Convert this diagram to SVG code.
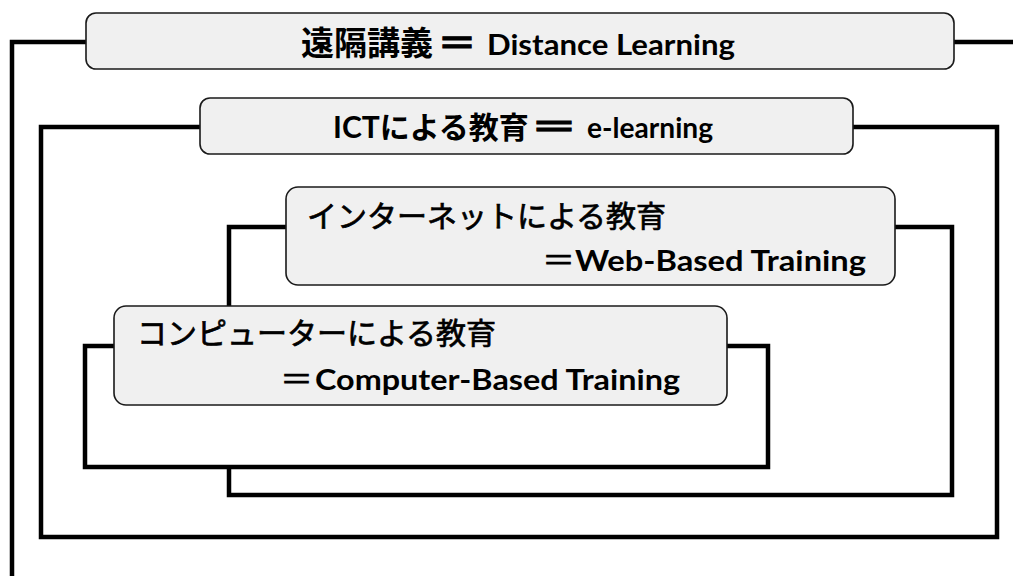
<svg xmlns="http://www.w3.org/2000/svg" width="1013" height="576" viewBox="0 0 1013 576">
  <defs>
    <style>
      .bracket { fill: #ffffff; stroke: #000000; stroke-width: 4.5; }
      .box { fill: #f0f0f0; stroke: #1a1a1a; stroke-width: 1.6; }
      text { fill: #000000; }
      .jpb { font-family: "Noto Sans CJK JP", "Noto Sans CJK SC", sans-serif; font-weight: 700; }
      .jpm { font-family: "Noto Sans CJK JP", "Noto Sans CJK SC", sans-serif; font-weight: 400; font-size: 30px; stroke: #000000; stroke-width: 0.7; }
      .en { font-family: Lato, "Liberation Sans", "Noto Sans CJK JP", sans-serif; font-weight: 700; font-size: 29px; }
      .mix { font-family: Lato, "Noto Sans CJK JP", "Noto Sans CJK SC", sans-serif; font-weight: 700; font-size: 30px; }
      .eq { stroke: #000000; stroke-width: 0.8; }
    </style>
  </defs>

  <rect width="1013" height="576" fill="#ffffff"/>

  <!-- nesting brackets, outermost first; inner ones are filled white -->
  <g id="connectors">
    <rect class="bracket" x="12" y="42" width="1020" height="600"/>
    <rect class="bracket" x="41" y="127" width="956" height="410"/>
    <rect class="bracket" x="229" y="227" width="723" height="268"/>
    <rect class="bracket" x="85" y="346" width="683" height="121"/>
  </g>

  <g id="distance-learning">
    <rect class="box" x="86" y="13" width="868" height="56" rx="10"/>
    <text y="55"><tspan class="jpb" x="301" font-size="33">遠隔講義</tspan><tspan class="jpb eq" x="437" font-size="33" textLength="40" lengthAdjust="spacingAndGlyphs">＝</tspan><tspan class="en" x="487" textLength="248" lengthAdjust="spacingAndGlyphs">Distance Learning</tspan></text>
  </g>

  <g id="e-learning">
    <rect class="box" x="200" y="98" width="653" height="56" rx="10"/>
    <text y="138"><tspan class="mix" x="333">ICTによる教育</tspan><tspan class="jpb eq" x="530" font-size="31" textLength="48" lengthAdjust="spacingAndGlyphs">＝</tspan><tspan class="en" x="587" textLength="126" lengthAdjust="spacingAndGlyphs">e-learning</tspan></text>
  </g>

  <g id="web-based-training">
    <rect class="box" x="286" y="187" width="609" height="98" rx="12"/>
    <text class="jpm" x="307" y="227">インターネットによる教育</text>
    <text y="270.5"><tspan class="jpm" x="542" textLength="33" lengthAdjust="spacingAndGlyphs">＝</tspan><tspan class="en" x="575" textLength="291" lengthAdjust="spacingAndGlyphs">Web-Based Training</tspan></text>
  </g>

  <g id="computer-based-training">
    <rect class="box" x="114" y="306" width="613" height="99" rx="12"/>
    <text class="jpm" x="137" y="344">コンピューターによる教育</text>
    <text y="390"><tspan class="jpm" x="280" textLength="33" lengthAdjust="spacingAndGlyphs">＝</tspan><tspan class="en" x="315" textLength="365" lengthAdjust="spacingAndGlyphs">Computer-Based Training</tspan></text>
  </g>
</svg>
